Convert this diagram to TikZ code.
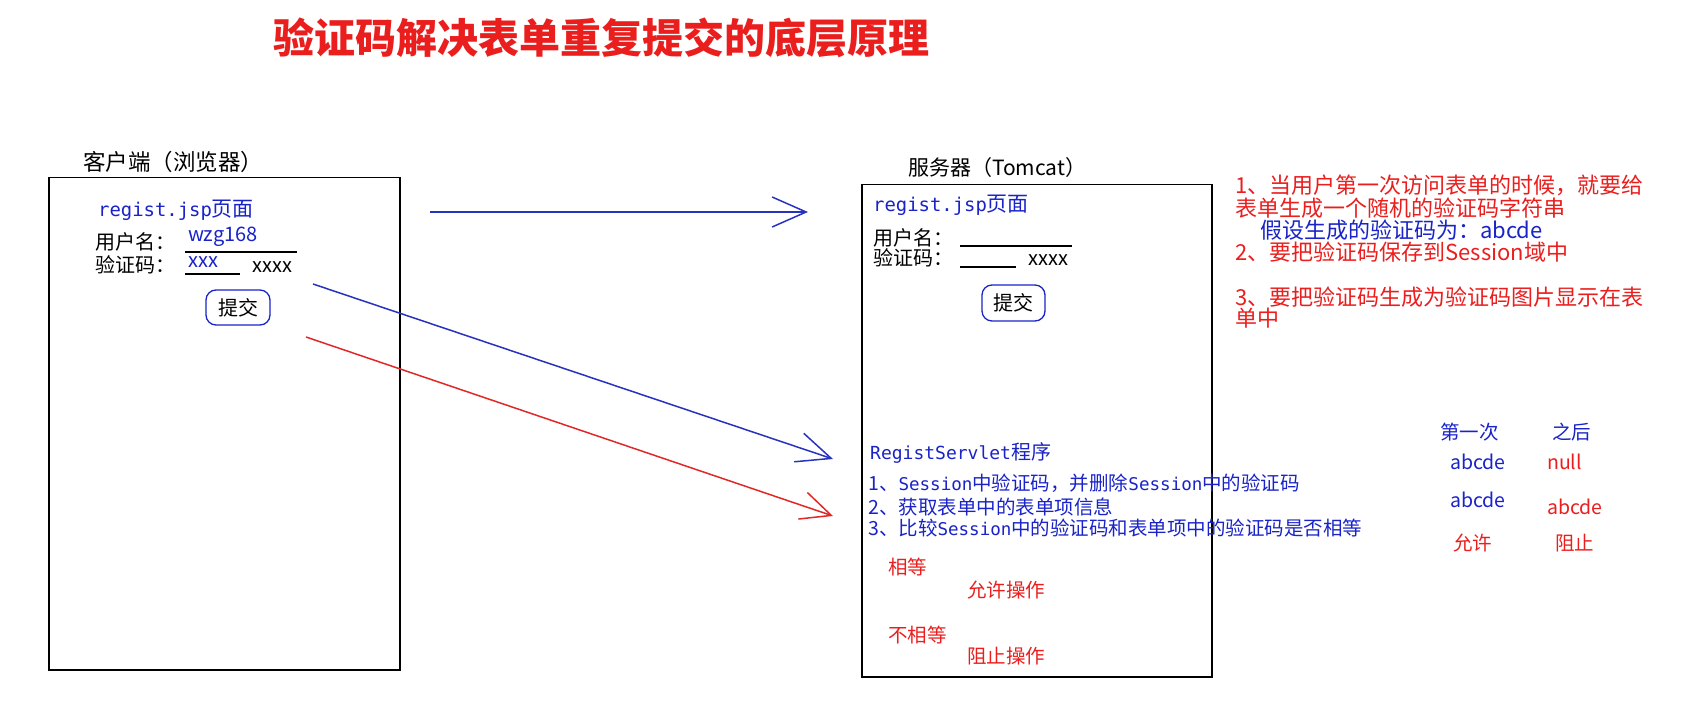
\documentclass[tikz,border=0pt]{standalone}
\usepackage{fontspec}
\setmainfont{Noto Sans CJK SC}
\newfontfamily\mono[Scale=0.9]{DejaVu Sans Mono}
\usetikzlibrary{arrows.meta}
\definecolor{myblue}{RGB}{25,35,200}
\definecolor{myred}{RGB}{235,30,30}
\definecolor{lineblue}{RGB}{40,50,190}
\definecolor{linered}{RGB}{225,40,40}
\begin{document}
\begin{tikzpicture}[x=1pt,y=-1pt,
  t/.style={inner sep=0pt, anchor=west, font=\fontsize{20}{24}\selectfont},
  tnote/.style={t, font=\fontsize{22}{26}\selectfont},
  tsmall/.style={t, font=\fontsize{19.5}{23}\selectfont},
  frame/.style={draw=black, line width=1.5pt, anchor=north west, inner sep=0pt},
  btn/.style={draw=myblue, line width=1.3pt, rounded corners=10pt, inner sep=0pt, font=\fontsize{20}{24}\selectfont},
  uline/.style={draw=black, line width=1.1pt},
  barrow/.style={draw=lineblue, line width=1.5pt, -{Straight Barb[length=34pt,width=30pt]}},
  rarrow/.style={draw=linered, line width=1.5pt, -{Straight Barb[length=30pt,width=28pt]}}]
\useasboundingbox[fill=white] (0,0) rectangle (1687,727);

% title
\node[inner sep=0pt, text=myred, font=\fontsize{41}{49}\bfseries\selectfont] (title) at (601,38) {验证码解决表单重复提交的底层原理};

% client
\node[t, font=\fontsize{22.5}{26}\selectfont] (clientlbl) at (83,162) {客户端（浏览器）};
\node[frame, minimum width=351pt, minimum height=492pt] (client) at (48,177) {};
\node[t, text=myblue, font=\fontsize{21}{25}\selectfont] (cpage) at (98,210) {{\mono regist.jsp}页面};
\node[t] (cuser) at (95,242) {用户名：};
\node[t, text=myblue] (cuserv) at (188,237) {wzg168};
\draw[uline] (185,252) -- (297,252);
\node[t] (ccode) at (95,265) {验证码：};
\node[t, text=myblue] (ccodev) at (188,262) {xxx};
\draw[uline] (185,274) -- (240,274);
\node[t] (cimg) at (252,267) {xxxx};
\node[btn, minimum width=64pt, minimum height=35pt] (cbtn) at (238,307.5) {提交};

% server
\node[t, font=\fontsize{21}{25}\selectfont] (serverlbl) at (908,168) {服务器（Tomcat）};
\node[frame, minimum width=350pt, minimum height=492pt] (server) at (861,184) {};
\node[t, text=myblue, font=\fontsize{21}{25}\selectfont] (spage) at (873,205) {{\mono regist.jsp}页面};
\node[t] (suser) at (873,238) {用户名：};
\draw[uline] (960,246) -- (1072,246);
\node[t] (scode) at (873,258) {验证码：};
\draw[uline] (960,267) -- (1016,267);
\node[t] (simg) at (1028,260) {xxxx};
\node[btn, minimum width=63pt, minimum height=36pt] (sbtn) at (1013.5,303) {提交};

\node[t, text=myblue, font=\fontsize{20}{24}\selectfont] (servlet) at (870,453) {{\mono RegistServlet}程序};
\node[tsmall, text=myblue] (step1) at (868,483) {1、{\mono Session}中验证码，并删除{\mono Session}中的验证码};
\node[tsmall, text=myblue] (step2) at (868,507) {2、获取表单中的表单项信息};
\node[tsmall, text=myblue] (step3) at (868,528) {3、比较{\mono Session}中的验证码和表单项中的验证码是否相等};
\node[tsmall, text=myred] (eq) at (888,567) {相等};
\node[tsmall, text=myred] (allow) at (967,590) {允许操作};
\node[tsmall, text=myred] (neq) at (888,635) {不相等};
\node[tsmall, text=myred] (block) at (967,656) {阻止操作};

% notes
\node[tnote, text=myred] (n1) at (1235,185) {1、当用户第一次访问表单的时候，就要给};
\node[tnote, text=myred] (n1b) at (1235,208) {表单生成一个随机的验证码字符串};
\node[tnote, text=myblue] (n1c) at (1260,230) {假设生成的验证码为：abcde};
\node[tnote, text=myred] (n2) at (1235,252) {2、要把验证码保存到Session域中};
\node[tnote, text=myred] (n3) at (1235,297) {3、要把验证码生成为验证码图片显示在表};
\node[tnote, text=myred] (n3b) at (1235,318) {单中};

% table
\node[tsmall, text=myblue] (h1) at (1440,432) {第一次};
\node[tsmall, text=myblue] (h2) at (1552,432) {之后};
\node[tsmall, text=myblue] (r1a) at (1450,462) {abcde};
\node[tsmall, text=myred] (r1b) at (1547,462) {null};
\node[tsmall, text=myblue] (r2a) at (1450,500) {abcde};
\node[tsmall, text=myred] (r2b) at (1547,507) {abcde};
\node[tsmall, text=myred] (r3a) at (1453,543) {允许};
\node[tsmall, text=myred] (r3b) at (1555,543) {阻止};

% arrows
\coordinate (a1s) at (430,212);
\coordinate (a1e) at (808,212);
\coordinate (a2s) at (313,284);
\coordinate (a2e) at (833,459);
\coordinate (a3s) at (306,337);
\coordinate (a3e) at (833,516);
\draw[barrow] (a1s) -- (a1e);
\draw[barrow] (a2s) -- (a2e);
\draw[rarrow] (a3s) -- (a3e);
\end{tikzpicture}
\end{document}
